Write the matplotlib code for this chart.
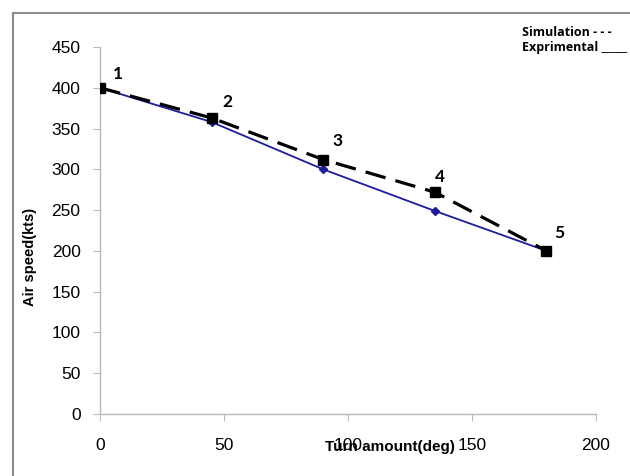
import matplotlib
matplotlib.use("Agg")
import matplotlib.pyplot as plt
from matplotlib.patches import Rectangle

# values
turn_deg = [0, 45, 90, 135, 180]
experimental = [400, 358, 300, 249, 200]
simulation = [400, 363, 312, 272, 200]
point_labels = ["1", "2", "3", "4", "5"]
label_offsets = [(13, 10), (11.5, 11.5), (10, 13), (3.6, 11), (9.4, 13)]  # points

fig = plt.figure(figsize=(6.3, 4.76), dpi=100)
ax = fig.add_axes([100 / 630, 62 / 476, 496 / 630, 367 / 476])

ax.plot(turn_deg, experimental, color="#1c1c9c", lw=1.3,
        marker="D", markersize=4.5, zorder=2)
ax.plot(turn_deg, simulation, color="black", lw=2.3, dashes=(6.5, 3.2),
        marker="s", markersize=7, zorder=3)

for x, y, lab, off in zip(turn_deg, simulation, point_labels, label_offsets):
    ax.annotate(lab, (x, y), xytext=off, textcoords="offset points",
                ha="center", va="center", fontsize=12.5, fontweight="bold",
                family="Lato")

ax.set_xlim(0, 200)
ax.set_ylim(0, 450)
ax.set_xticks(range(0, 201, 50))
ax.set_yticks(range(0, 451, 50))

for side in ["top", "right"]:
    ax.spines[side].set_visible(False)
for side in ["left", "bottom"]:
    ax.spines[side].set_color("#b8b8b8")
    ax.spines[side].set_linewidth(1)
ax.spines["left"].set_zorder(1)
ax.spines["bottom"].set_zorder(1)

ax.tick_params(axis="both", direction="out", length=5, color="#b8b8b8",
               labelsize=12.5, labelcolor="black")
ax.tick_params(axis="y", pad=9)
ax.tick_params(axis="x", pad=12)
for t in ax.get_xticklabels() + ax.get_yticklabels():
    t.set_family("Liberation Sans")

fig.text(30 / 630, 1 - 257 / 476, "Air speed(kts)", rotation=90,
         ha="center", va="center", fontsize=10.5, fontweight="bold",
         family="Liberation Sans")
fig.text(390 / 630, 1 - 447 / 476, "Turn amount(deg)", ha="center",
         va="center", fontsize=11, fontweight="bold", family="Liberation Sans")

fig.text(612 / 630, 1 - 32 / 476, "Simulation - - -", ha="right",
         va="center", fontsize=9, fontweight="bold", family="Open Sans")
fig.text(627 / 630, 1 - 48 / 476, "Exprimental _____", ha="right",
         va="center", fontsize=9, fontweight="bold", family="Open Sans")

# outer chart-area frame
fig.add_artist(Rectangle((13 / 630, -0.1), 1.0, 1 - 13 / 476 + 0.1,
                         transform=fig.transFigure, fill=False,
                         edgecolor="#8c8c8c", lw=1.5))

fig.savefig("out.png", dpi=100)
